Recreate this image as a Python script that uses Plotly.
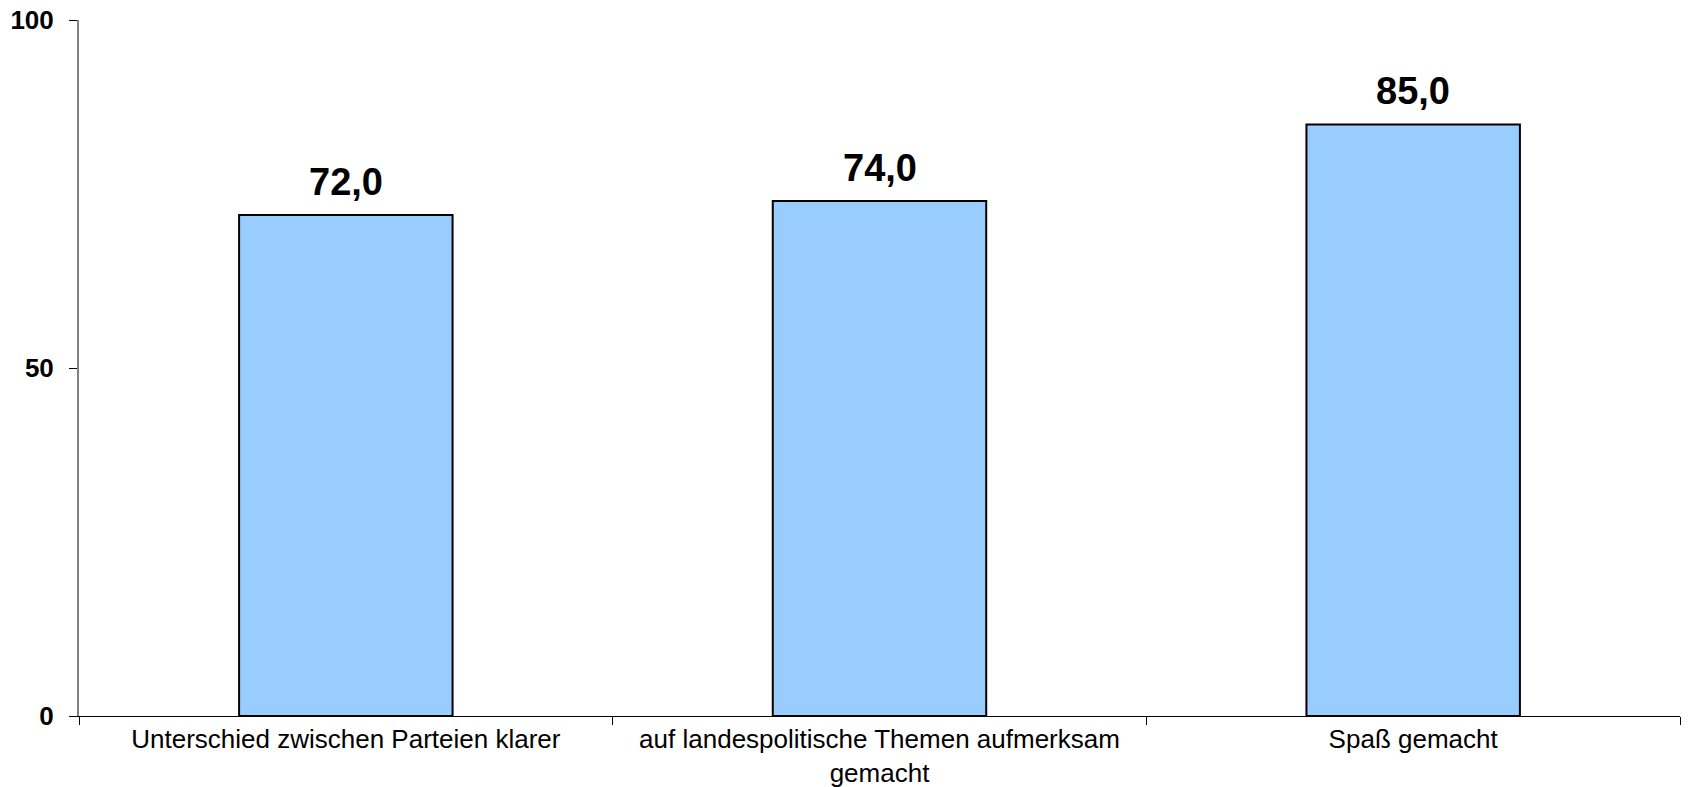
import plotly.graph_objects as go

categories = [
    "Unterschied zwischen Parteien klarer",
    "auf landespolitische Themen aufmerksam<br>gemacht",
    "Spaß gemacht",
]
values = [72.0, 74.0, 85.0]
y_ticks = [0, 50, 100]

FONT = "Liberation Sans, Arial, sans-serif"

fig = go.Figure()
fig.add_trace(go.Bar(
    x=categories,
    y=values,
    width=0.4,
    marker=dict(color="#99CCFF", line=dict(color="#000000", width=2)),
    hoverinfo="skip",
))

for c, v in zip(categories, values):
    fig.add_annotation(
        x=c, y=v, text=f"{v:.1f}".replace(".", ","),
        showarrow=False, yanchor="bottom", yshift=10,
        font=dict(family=FONT, size=38, color="#000000", weight="bold"),
    )

fig.update_layout(
    width=1688, height=787,
    margin=dict(l=79, r=8, t=20, b=71),
    paper_bgcolor="white", plot_bgcolor="white",
    showlegend=False,
    bargap=0.6,
    font=dict(family=FONT, color="#000000"),
)
fig.update_xaxes(
    automargin=False, ticklabeloverflow="allow",
    showline=True, linecolor="#000000", linewidth=1,
    ticks="outside", tickson="boundaries", ticklen=8, tickcolor="#000000",
    showgrid=False, zeroline=False,
    tickfont=dict(family=FONT, size=26, color="#000000"),
)
fig.update_yaxes(
    automargin=False, ticklabeloverflow="allow",
    range=[0, 100], tickvals=y_ticks, ticktext=[str(t) for t in y_ticks],
    showline=True, linecolor="#808080", linewidth=2,
    ticks="outside", ticklen=8, tickcolor="#000000",
    showgrid=False, zeroline=False,
    tickfont=dict(family=FONT, size=26, color="#000000", weight="bold"),
    ticklabelstandoff=10,
)

fig.write_html(
    "out.html",
    config={"displayModeBar": False, "staticPlot": True},
    post_script="document.body.style.margin='0';document.documentElement.style.overflow='hidden';",
)
